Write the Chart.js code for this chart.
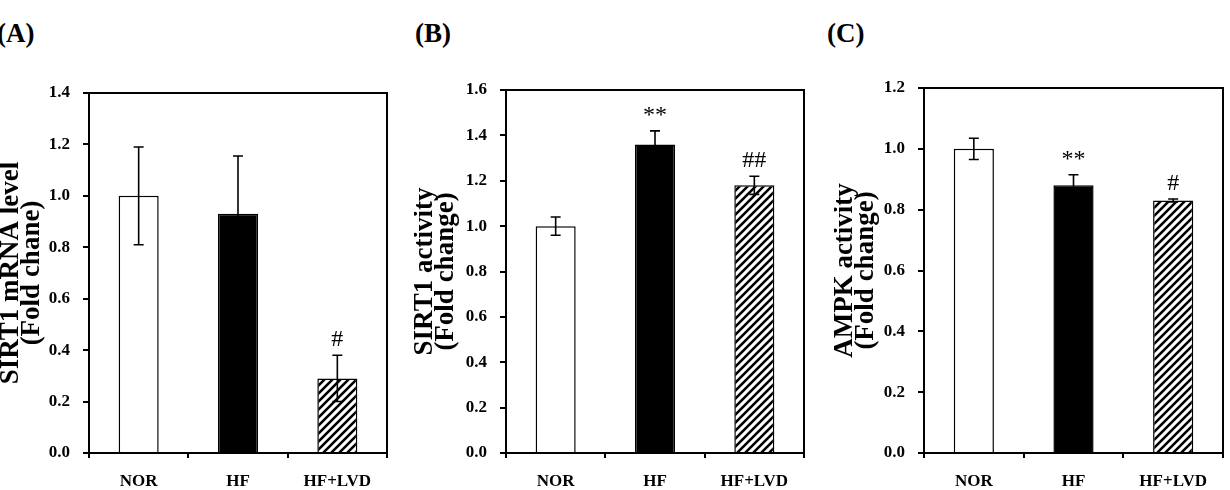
<!DOCTYPE html>
<html><head><meta charset="utf-8">
<script src="https://cdn.jsdelivr.net/npm/chart.js@4.4.1/dist/chart.umd.min.js"></script>
<style>
html,body{margin:0;padding:0;background:#fff;width:1230px;height:490px;overflow:hidden;position:relative;font-family:"Liberation Serif","Times New Roman",serif;}
canvas{position:absolute;top:0;}
.plabel{position:absolute;font-weight:bold;font-size:27px;line-height:27px;top:20px;color:#000;}
</style></head><body>
<div class="plabel" style="left:-3px">(A)</div>
<div class="plabel" style="left:415px">(B)</div>
<div class="plabel" style="left:827px">(C)</div>
<canvas id="cA" width="405" height="490" style="left:0px"></canvas>
<canvas id="cB" width="410" height="490" style="left:414px"></canvas>
<canvas id="cC" width="396" height="490" style="left:834px"></canvas>
<script>
// ---- data ----
const categories = ['NOR', 'HF', 'HF+LVD'];

const sirt1MrnaMeans  = [1.00, 0.93, 0.29];
const sirt1MrnaErrors = [0.19, 0.225, 0.09];
const sirt1MrnaMarks  = ['', '', '#'];
const sirt1MrnaTicks  = [0.0, 0.2, 0.4, 0.6, 0.8, 1.0, 1.2, 1.4];
const sirt1MrnaTitle  = ['SIRT1 mRNA level', '(Fold chane)'];

const sirt1ActMeans  = [1.00, 1.36, 1.18];
const sirt1ActErrors = [0.04, 0.06, 0.04];
const sirt1ActMarks  = ['', '**', '##'];
const sirt1ActTicks  = [0.0, 0.2, 0.4, 0.6, 0.8, 1.0, 1.2, 1.4, 1.6];
const sirt1ActTitle  = ['SIRT1 activity', '(Fold change)'];

const ampkActMeans  = [1.00, 0.88, 0.83];
const ampkActErrors = [0.035, 0.035, 0.005];
const ampkActMarks  = ['', '**', '#'];
const ampkActTicks  = [0.0, 0.2, 0.4, 0.6, 0.8, 1.0, 1.2];
const ampkActTitle  = ['AMPK activity', '(Fold change)'];

// ---- styles ----
function hatch() {
  const s = 8;
  const c = document.createElement('canvas');
  c.width = s; c.height = s;
  const g = c.getContext('2d');
  g.fillStyle = '#fff'; g.fillRect(0, 0, s, s);
  g.strokeStyle = '#000'; g.lineWidth = 2.6;
  g.beginPath();
  g.moveTo(-2, s + 2); g.lineTo(s + 2, -2);
  g.moveTo(-2, 2); g.lineTo(2, -2);
  g.moveTo(s - 2, s + 2); g.lineTo(s + 2, s - 2);
  g.stroke();
  return g.createPattern(c, 'repeat');
}

const errorBarPlugin = {
  id: 'errbars',
  afterDatasetsDraw(chart, args, opts) {
    const ctx = chart.ctx;
    const meta = chart.getDatasetMeta(0);
    const ys = chart.scales.y;
    const vals = chart.data.datasets[0].data;
    ctx.save();
    ctx.strokeStyle = '#000';
    ctx.lineWidth = 1.6;
    meta.data.forEach((bar, i) => {
      const v = vals[i], e = opts.errors[i];
      const x = bar.x;
      const yt = ys.getPixelForValue(v + e);
      const yb = ys.getPixelForValue(v - e);
      ctx.beginPath();
      ctx.moveTo(x, yt); ctx.lineTo(x, yb);
      ctx.moveTo(x - 5, yt); ctx.lineTo(x + 5, yt);
      ctx.moveTo(x - 5, yb); ctx.lineTo(x + 5, yb);
      ctx.stroke();
      const m = opts.marks[i];
      if (m) {
        ctx.fillStyle = '#000';
        ctx.font = '24px "Liberation Serif", serif';
        ctx.textAlign = 'center';
        ctx.textBaseline = 'alphabetic';
        ctx.fillText(m, x, yt - 9);
      }
    });
    ctx.restore();
  }
};

const framePlugin = {
  id: 'frame',
  afterDraw(chart) {
    const a = chart.chartArea, ctx = chart.ctx;
    ctx.save();
    ctx.strokeStyle = '#000';
    ctx.lineWidth = 2;
    ctx.strokeRect(a.left, a.top, a.right - a.left, a.bottom - a.top);
    ctx.restore();
  }
};

function makeChart(id, means, errors, marks, ticks, title, yWidth, padTop, padRight) {
  const tickFont = {family: '"Liberation Serif", serif', weight: 'bold', size: 17};
  return new Chart(document.getElementById(id), {
    type: 'bar',
    data: {
      labels: categories,
      datasets: [{
        data: means,
        backgroundColor: ['#ffffff', '#000000', hatch()],
        borderColor: '#000',
        borderWidth: 1.5,
        categoryPercentage: 1.0,
        barPercentage: 0.403
      }]
    },
    options: {
      responsive: false,
      animation: false,
      events: [],
      layout: {padding: {top: padTop, right: padRight, left: 0, bottom: 0}},
      plugins: {
        legend: {display: false},
        tooltip: {enabled: false},
        errbars: {errors: errors, marks: marks}
      },
      scales: {
        x: {
          border: {display: false},
          grid: {display: true, drawOnChartArea: false, drawTicks: true, tickLength: 5, color: '#000', lineWidth: 2, offset: true},
          ticks: {color: '#000', font: tickFont, padding: 13, maxRotation: 0},
          afterFit(s) { s.height = 37; }
        },
        y: {
          min: ticks[0],
          max: ticks[ticks.length - 1],
          border: {display: false},
          grid: {drawOnChartArea: false, drawTicks: true, tickLength: 6, color: '#000', lineWidth: 2},
          ticks: {color: '#000', font: tickFont, padding: 13, callback: v => Number(v).toFixed(1)},
          afterBuildTicks(s) { s.ticks = ticks.map(v => ({value: v})); },
          title: {
            display: true,
            text: title,
            color: '#000',
            padding: {top: 0, bottom: 0},
            font: {family: '"Liberation Serif", serif', weight: 'bold', size: 27, lineHeight: 0.8}
          },
          afterFit(s) { s.width = yWidth; }
        }
      }
    },
    plugins: [errorBarPlugin, framePlugin]
  });
}

makeChart('cA', sirt1MrnaMeans, sirt1MrnaErrors, sirt1MrnaMarks, sirt1MrnaTicks, sirt1MrnaTitle, 89, 93, 405 - 387);
makeChart('cB', sirt1ActMeans, sirt1ActErrors, sirt1ActMarks, sirt1ActTicks, sirt1ActTitle, 92, 90, 410 - 390);
makeChart('cC', ampkActMeans, ampkActErrors, ampkActMarks, ampkActTicks, ampkActTitle, 90, 88, 396 - 389);
</script>
</body></html>
